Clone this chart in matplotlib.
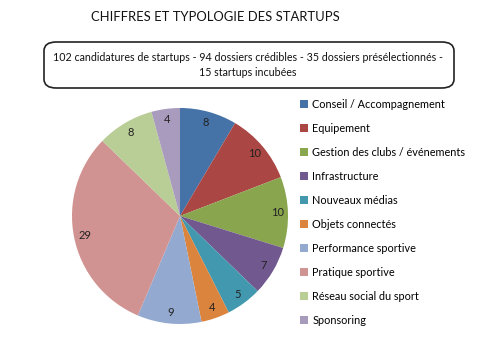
import matplotlib.pyplot as plt
from matplotlib.patches import FancyBboxPatch, Patch

plt.rcParams['font.family'] = ['Lato', 'DejaVu Sans']

categories = ["Conseil / Accompagnement", "Equipement", "Gestion des clubs / événements",
              "Infrastructure", "Nouveaux médias", "Objets connectés",
              "Performance sportive", "Pratique sportive", "Réseau social du sport",
              "Sponsoring"]
values = [8, 10, 10, 7, 5, 4, 9, 29, 8, 4]
colors = ["#4572A7", "#AA4643", "#89A54E", "#71588F", "#4198AF", "#DB843D",
          "#93A9CF", "#D19392", "#B9CD96", "#A99BBD"]

title = "CHIFFRES ET TYPOLOGIE DES STARTUPS"
subtitle = "102 candidatures de startups - 94 dossiers crédibles - 35 dossiers présélectionnés -\n15 startups incubées"

W, H = 490, 352
fig = plt.figure(figsize=(W / 100, H / 100), dpi=100)
fig.patch.set_facecolor("white")

# pie: centre (180,216), rayon ~108 px
r = 108
ax = fig.add_axes([(180 - r) / W, (H - 216 - r) / H, 2 * r / W, 2 * r / H])
total = sum(values)
wedges, texts, autotexts = ax.pie(values, colors=colors, startangle=90, counterclock=False,
                                  autopct=lambda p: f"{round(p * total / 100)}",
                                  pctdistance=0.9, radius=1.0,
                                  wedgeprops=dict(linewidth=0),
                                  textprops=dict(fontsize=8, color="#222222"))
ax.set_xlim(-1, 1)
ax.set_ylim(-1, 1)
ax.set_aspect("auto")
ax.axis("off")

fig.text(215 / W, 1 - 17 / H, title, ha="center", va="center", fontsize=9.4, color="#111111")

box = FancyBboxPatch((44 / W, 1 - 88 / H), 410 / W, 46 / H,
                     boxstyle="round,pad=0,rounding_size=0.025",
                     transform=fig.transFigure, facecolor="white",
                     edgecolor="#222222", linewidth=1.2)
fig.patches.append(box)
fig.text(248 / W, 1 - 65 / H, subtitle, ha="center", va="center", fontsize=7.65,
         color="#111111", linespacing=1.35)

handles = [Patch(facecolor=c, edgecolor="none") for c in colors]
fig.legend(handles, categories, loc="upper left", bbox_to_anchor=(300 / W, 1 - 99 / H),
           frameon=False, fontsize=7.8, handlelength=0.75, handleheight=0.75,
           handletextpad=0.4, labelspacing=1.2, borderaxespad=0, borderpad=0)

fig.savefig("out.png", dpi=100)
